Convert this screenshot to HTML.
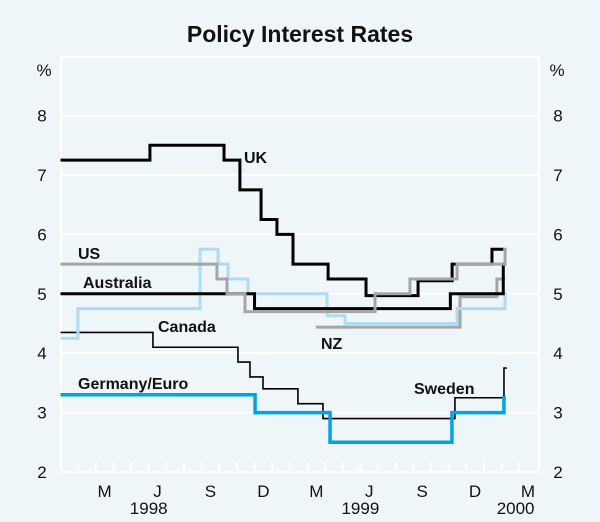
<!DOCTYPE html>
<html><head><meta charset="utf-8">
<style>
html,body{margin:0;padding:0;background:#eef6f9;}
svg{display:block;font-family:"Liberation Sans",Arial,sans-serif;}
.t{font-size:17px;fill:#111;}
.lab{font-size:16px;font-weight:bold;fill:#111;}
</style></head>
<body>
<svg id="chart" width="600" height="522" viewBox="0 0 600 522">
<rect x="0" y="0" width="600" height="522" fill="#eef6f9"/>
<text x="300" y="42" text-anchor="middle" font-size="23" font-weight="bold" fill="#111">Policy Interest Rates</text>
<g id="grid"></g>
<g id="series"></g>
<g id="labels"></g>
</svg>
<script>
const yTicks=[2,3,4,5,6,7,8];
const xMonthLabels=["M","J","S","D","M","J","S","D","M"];
const xMonthIdx=[2,5,8,11,14,17,20,23,26];
const yearLabels=["1998","1999","2000"];
const yearIdx=[5,17,25.8];
const ukT=[0,5.07,9.27,10.17,11.37,12.27,13.18,15.17,17.32,20.27,22.2,24.46,25.1];
const ukV=[7.25,7.5,7.25,6.75,6.25,6.0,5.5,5.25,4.97,5.22,5.5,5.75,5.75];
const ausT=[0,11.0,22.1,25.1,25.25];
const ausV=[5.0,4.75,5.0,5.5,5.5];
const usT=[0,8.87,9.44,10.46,17.83,19.81,22.48,25.2,25.3];
const usV=[5.5,5.25,5.0,4.7,5.0,5.25,5.5,5.75,5.75];
const nzT=[14.48,22.65,24.74,25.2];
const nzV=[4.44,4.95,5.25,5.25];
const lbT=[0,0.99,7.91,8.93,9.5,10.63,15.11,16.13,22.48,25.2,25.3];
const lbV=[4.25,4.75,5.75,5.5,5.25,5.0,4.63,4.5,4.75,5.0,5.0];
const swT=[0,5.24,10.06,10.74,11.48,13.46,14.88,22.36,25.14,25.3];
const swV=[4.35,4.1,3.85,3.6,3.4,3.15,2.9,3.25,3.75,3.75];
const euT=[0,11.03,15.28,22.19,25.14,25.25];
const euV=[3.3,3.0,2.5,3.0,3.25,3.25];

const NS="http://www.w3.org/2000/svg";
const X0=60.5,MW=17.64,PL=61,PR=539,PT=57,PB=472;
function x(m){return X0+MW*m;}
function y(v){return PB-(v-2)*59.4;}
function mk(tag,attrs,parent){const e=document.createElementNS(NS,tag);for(const k in attrs)e.setAttribute(k,attrs[k]);parent.appendChild(e);return e;}
const grid=document.getElementById('grid'),ser=document.getElementById('series'),lab=document.getElementById('labels');
const frame=mk('rect',{x:PL,y:PT,width:PR-PL,height:PB-PT,fill:'none',stroke:'#fff','stroke-width':2},grid);


yTicks.forEach(v=>{
  const l=mk('line',{x1:PL,x2:PR,y1:y(v),y2:y(v),stroke:'#fff','stroke-width':2},grid);
  
  
  const a=mk('text',{x:42,y:y(v)+6,'text-anchor':'middle',class:'t'},lab);a.textContent=v;
  
  
  const b=mk('text',{x:558,y:y(v)+6,'text-anchor':'middle',class:'t'},lab);b.textContent=v;
  
  
});
[['%',44],['%',557]].forEach(p=>{const t=mk('text',{x:p[1],y:76,'text-anchor':'middle',class:'t'},lab);t.textContent=p[0];
  
  });
for(let m=1;m<27;m++){const t=mk('line',{x1:x(m),x2:x(m),y1:PB-10,y2:PB,stroke:'#fff','stroke-width':2},grid);
  
  }
xMonthLabels.forEach((s,i)=>{const t=mk('text',{x:x(xMonthIdx[i]+0.5),y:497,'text-anchor':'middle',class:'t'},lab);t.textContent=s;
  
  });
yearLabels.forEach((s,i)=>{const t=mk('text',{x:x(yearIdx[i]),y:514,'text-anchor':'middle',class:'t'},lab);t.textContent=s;
  
  });
function step(T,V,color,w,name){
  let d='M'+x(T[0])+','+y(V[0]);
  for(let i=1;i<T.length;i++){d+=' H'+x(T[i])+' V'+y(V[i]);}
  const p=mk('path',{d:d,fill:'none',stroke:color,'stroke-width':w,'stroke-linejoin':'miter'},ser);
  
  
}
step(swT,swV,'#000',1.6,'sweden-line');
step(euT,euV,'#00a3e6',3.5,'germany-euro-line');
step(nzT,nzV,'#a5a5a5',3,'nz-line');
step(lbT,lbV,'#aedbf5',3,'light-blue-line');
step(ukT,ukV,'#000',3,'uk-line');
step(ausT,ausV,'#000',3,'australia-line');
step(usT,usV,'#a5a5a5',3,'us-line');
const sl=[['UK',244,163],['US',78,259],['Australia',83,288],['Canada',158,332],['NZ',321,349],['Germany/Euro',78,389],['Sweden',414,394]];
sl.forEach(s=>{const t=mk('text',{x:s[1],y:s[2],class:'lab'},lab);t.textContent=s[0];
  
  });
</script>
</body></html>
